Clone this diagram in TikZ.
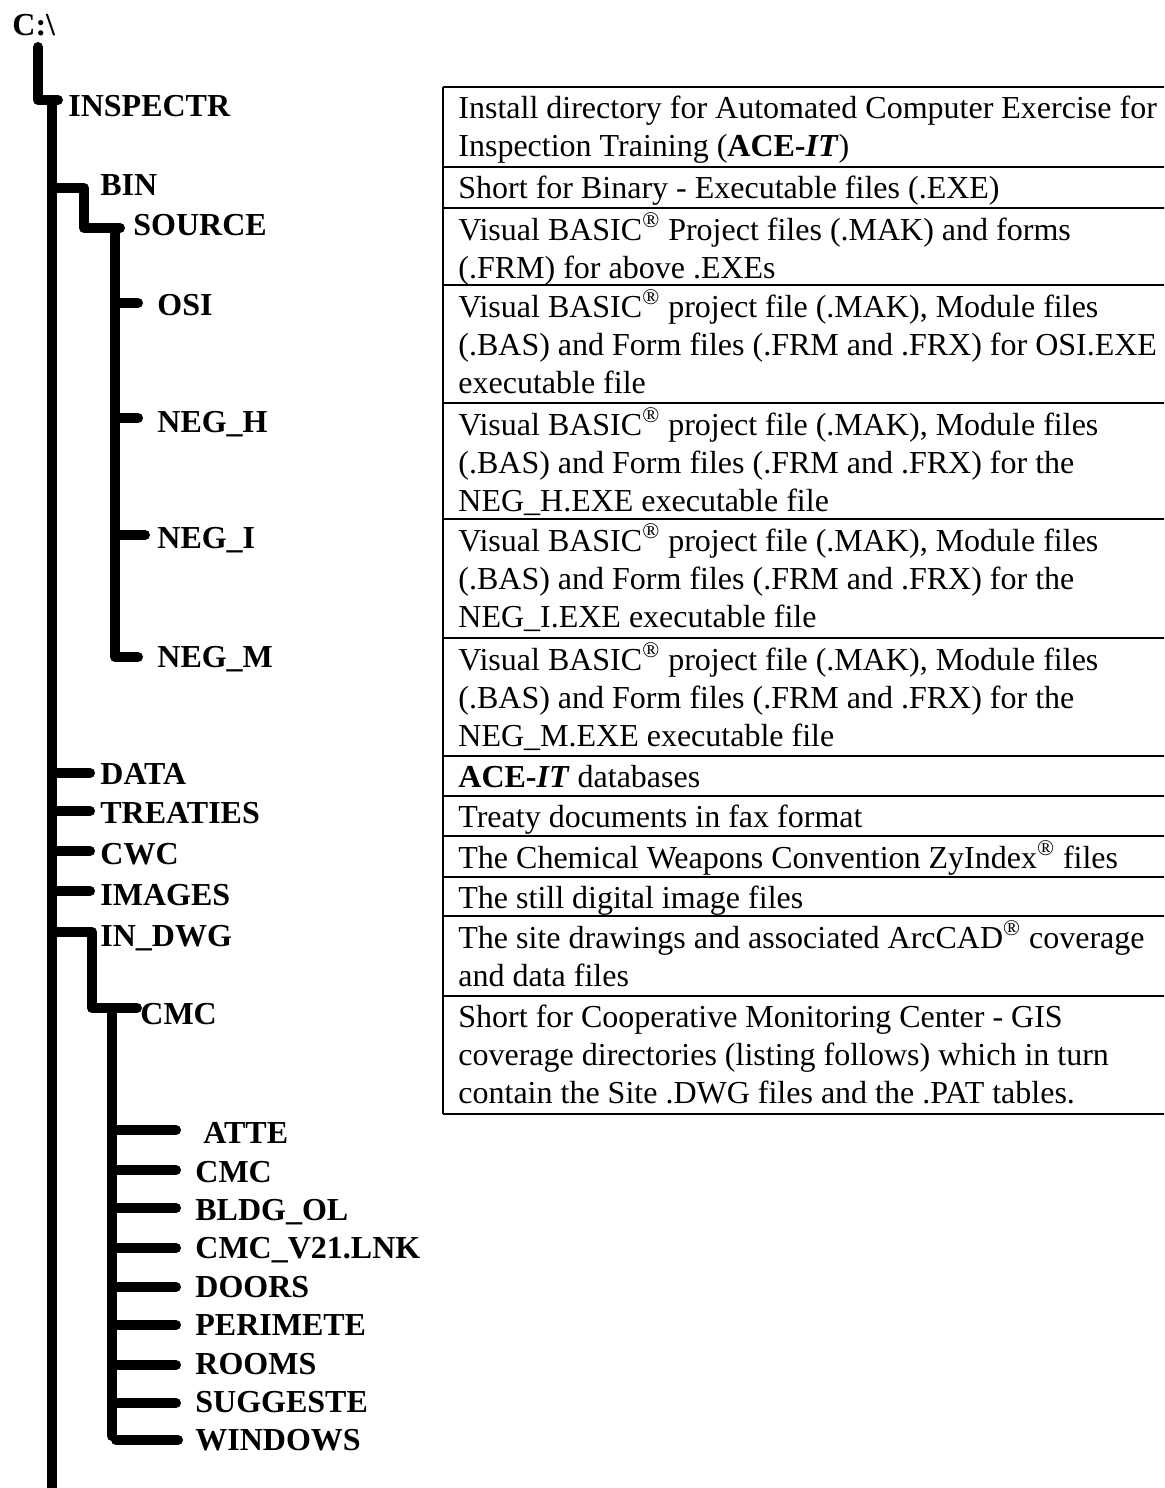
\documentclass[tikz,border=0pt]{standalone}
\usepackage{fontspec}
\setmainfont{Liberation Serif}
\begin{document}
\tikzset{
  treeline/.style={line width=5pt, line cap=round, line join=round},
  dirlabel/.style={font=\fontsize{16}{19}\selectfont\bfseries, anchor=base west, inner sep=0pt},
  desc/.style={font=\fontsize{16}{19}\selectfont, anchor=north west, inner sep=0pt, align=left},
  rule/.style={line width=1.25pt}
}
\begin{tikzpicture}[x=0.5pt,y=-0.5pt]
\useasboundingbox (0,0) rectangle (1164,1488);
\clip (0,0) rectangle (1164,1488);

% ---------------- directory labels ----------------
\node[dirlabel] (root)     at (12,35)   {C:\textbackslash};
\node[dirlabel] (inspectr) at (68,116)  {INSPECTR};
\node[dirlabel] (bin)      at (100,195) {BIN};
\node[dirlabel] (source)   at (133,235) {SOURCE};
\node[dirlabel] (osi)      at (157,315) {OSI};
\node[dirlabel] (negh)     at (157,432) {NEG\_H};
\node[dirlabel] (negi)     at (157,548) {NEG\_I};
\node[dirlabel] (negm)     at (157,667) {NEG\_M};
\node[dirlabel] (data)     at (100,784) {DATA};
\node[dirlabel] (treaties) at (100,823) {TREATIES};
\node[dirlabel] (cwc)      at (100,864) {CWC};
\node[dirlabel] (images)   at (100,905) {IMAGES};
\node[dirlabel] (indwg)    at (100,946) {IN\_DWG};
\node[dirlabel] (cmc)      at (140,1024) {CMC};
\node[dirlabel] (atte)     at (203,1143) {ATTE};
\node[dirlabel] (cmcb)     at (195,1182) {CMC};
\node[dirlabel] (bldg)     at (195,1220) {BLDG\_OL};
\node[dirlabel] (cmcv)     at (195,1258) {CMC\_V21.LNK};
\node[dirlabel] (doors)    at (195,1297) {DOORS};
\node[dirlabel] (perim)    at (195,1335) {PERIMETE};
\node[dirlabel] (rooms)    at (195,1374) {ROOMS};
\node[dirlabel] (sugg)     at (195,1412) {SUGGESTE};
\node[dirlabel] (windows)  at (195,1450) {WINDOWS};

% ---------------- tree junctions ----------------
\coordinate (rootbase) at (38,47);
\coordinate (step)     at (38,100);
\coordinate (spinetop) at (52,100);
\coordinate (spinebot) at (52,1500);
\coordinate (insend)   at (58,100);

\coordinate (binj)     at (52,188);
\coordinate (binc)     at (84,188);
\coordinate (bind)     at (84,228);
\coordinate (srcend)   at (120,228);
\coordinate (srctop)   at (115,228);
\coordinate (srcbot)   at (115,657);
\coordinate (negmend)  at (138,657);

\coordinate (indj)     at (52,932);
\coordinate (indc)     at (92,932);
\coordinate (indd)     at (92,1008);
\coordinate (cmcend)   at (137,1008);
\coordinate (cmctop)   at (112,1008);
\coordinate (cmcbot)   at (112,1436);

% main spine
\draw[treeline] (rootbase) -- (step) -- (spinetop) -- (spinebot);
\draw[treeline] (spinetop) -- (insend);
% BIN / SOURCE
\draw[treeline] (binj) -- (binc) -- (bind) -- (srcend);
\draw[treeline] (srctop) -- (srcbot) -- (negmend);
\draw[treeline] (115,303) -- (138,303);
\draw[treeline] (115,418) -- (138,418);
\draw[treeline] (115,535) -- (145,535);
% first-level leaves
\draw[treeline] (52,773) -- (90,773);
\draw[treeline] (52,811) -- (90,811);
\draw[treeline] (52,851) -- (90,851);
\draw[treeline] (52,891) -- (90,891);
% IN_DWG / CMC
\draw[treeline] (indj) -- (indc) -- (indd) -- (cmcend);
\draw[treeline] (cmctop) -- (cmcbot);
\foreach \yy in {1130,1170,1208,1248,1287,1325,1365,1403}
  \draw[treeline] (112,\yy) -- (176,\yy);
\draw[treeline] (116,1440) -- (178,1440);

% ---------------- description table ----------------
\foreach \yy in {87,167,208,285,403,519,638,756,796,836,877,916,996,1114}
  \draw[rule] (443,\yy) -- (1170,\yy);
\draw[rule] (443,87) -- (443,1114);

\node[desc] (d1)  at (458,91.4)   {\strut Install directory for Automated Computer Exercise for\\Inspection Training (\textbf{ACE-\textit{IT}})};
\node[desc] (d2)  at (458,171.4)  {\strut Short for Binary - Executable files (.EXE)};
\node[desc] (d3)  at (458,212.4)  {\strut Visual BASIC\textsuperscript{®} Project files (.MAK) and forms\\(.FRM) for above .EXEs};
\node[desc] (d4)  at (458,289.4)  {\strut Visual BASIC\textsuperscript{®} project file (.MAK), Module files\\(.BAS) and Form files (.FRM and .FRX) for OSI.EXE\\executable file};
\node[desc] (d5)  at (458,407.4)  {\strut Visual BASIC\textsuperscript{®} project file (.MAK), Module files\\(.BAS) and Form files (.FRM and .FRX) for the\\NEG\_H.EXE executable file};
\node[desc] (d6)  at (458,523.4)  {\strut Visual BASIC\textsuperscript{®} project file (.MAK), Module files\\(.BAS) and Form files (.FRM and .FRX) for the\\NEG\_I.EXE executable file};
\node[desc] (d7)  at (458,642.4)  {\strut Visual BASIC\textsuperscript{®} project file (.MAK), Module files\\(.BAS) and Form files (.FRM and .FRX) for the\\NEG\_M.EXE executable file};
\node[desc] (d8)  at (458,760.4)  {\strut \textbf{ACE-\textit{IT}} databases};
\node[desc] (d9)  at (458,800.4)  {\strut Treaty documents in fax format};
\node[desc] (d10) at (458,840.4)  {\strut The Chemical Weapons Convention ZyIndex\textsuperscript{®} files};
\node[desc] (d11) at (458,881.4)  {\strut The still digital image files};
\node[desc] (d12) at (458,920.4)  {\strut The site drawings and associated ArcCAD\textsuperscript{®} coverage\\and data files};
\node[desc] (d13) at (458,1000.4) {\strut Short for Cooperative Monitoring Center - GIS\\coverage directories (listing follows) which in turn\\contain the Site .DWG files and the .PAT tables.};
\end{tikzpicture}
\end{document}
